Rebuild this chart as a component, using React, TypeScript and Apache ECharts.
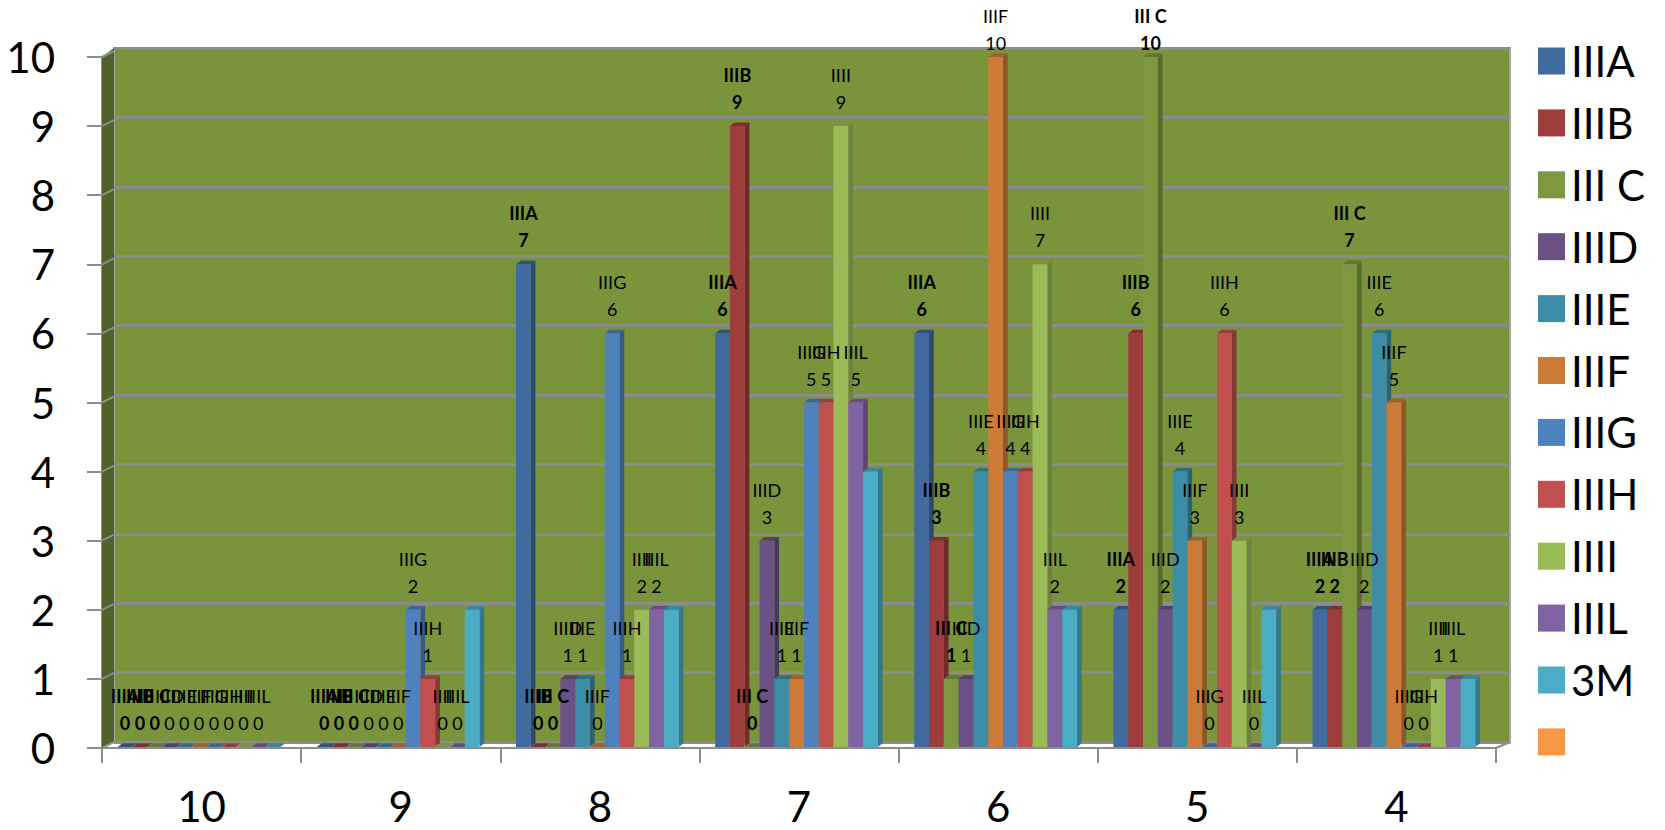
import React, { useEffect, useRef } from "react";
import * as echarts from "echarts";

const categories = ["10", "9", "8", "7", "6", "5", "4"];
const yTicks = [0, 1, 2, 3, 4, 5, 6, 7, 8, 9, 10];

const IIIA = [0, 0, 7, 6, 6, 2, 2];
const IIIB = [0, 0, 0, 9, 3, 6, 2];
const IIIC = [0, 0, 0, 0, 1, 10, 7];
const IIID = [0, 0, 1, 3, 1, 2, 2];
const IIIE = [0, 0, 1, 1, 4, 4, 6];
const IIIF = [0, 0, 0, 1, 10, 3, 5];
const IIIG = [0, 2, 6, 5, 4, 0, 0];
const IIIH = [0, 1, 1, 5, 4, 6, 0];
const IIII = [0, 0, 2, 9, 7, 3, 1];
const IIIL = [0, 0, 2, 5, 2, 0, 1];
const M3 = [0, 2, 2, 4, 2, 2, 1];

const seriesNames = ["IIIA", "IIIB", "III C", "IIID", "IIIE", "IIIF", "IIIG", "IIIH", "IIII", "IIIL", "3M"];
const seriesValues = [IIIA, IIIB, IIIC, IIID, IIIE, IIIF, IIIG, IIIH, IIII, IIIL, M3];
const seriesColors = ["#416a9e", "#9e3e3c", "#7e983f", "#6a5186", "#3c8da5", "#cc7b38", "#4f81bd", "#c0504d", "#9bbb59", "#8064a2", "#4bacc6"];
const boldNames = ["IIIA", "IIIB", "III C"];
const unlabelled = ["3M"];
const emptyLegendName = " ";
const emptyLegendColor = "#f79646";

const FONT = "Lato, 'Open Sans', sans-serif";
const GRAY = "#8c8c8c";

function darken(hex: string, k: number) {
  const n = parseInt(hex.slice(1), 16);
  const r = Math.round(((n >> 16) & 255) * k);
  const g = Math.round(((n >> 8) & 255) * k);
  const b = Math.round((n & 255) * k);
  return `rgb(${r},${g},${b})`;
}

export default function App() {
  const ref = useRef<HTMLDivElement>(null);
  useEffect(() => {
    const chart = echarts.init(ref.current!, undefined, { renderer: "svg" });

    const wallSeries: any = {
      type: "custom",
      name: "walls",
      xAxisIndex: 0,
      yAxisIndex: 0,
      silent: true,
      data: yTicks.map((v) => [0, v]),
      encode: { x: 0, y: 1 },
      renderItem: (_p: any, api: any) => {
        const v = api.value(1);
        const band = api.size([1, 0])[0];
        const [cx, y] = api.coord([0, v]);
        const x = cx - band / 2;
        const children: any[] = [];
        if (v === 0) {
          const top = api.coord([0, 10])[1];
          children.push({
            type: "polygon",
            z2: 0,
            shape: { points: [[x, y], [x + 12, y - 6], [x + 12, top - 9], [x, top]] },
            style: { fill: "#4f6228" },
          });
          const right = x + band * categories.length;
          children.push({
            type: "line",
            z2: 1,
            shape: { x1: right, y1: y, x2: right + 14, y2: y - 6 },
            style: { stroke: GRAY, lineWidth: 2 },
          });
        }
        children.push({
          type: "line",
          z2: 1,
          shape: { x1: x, y1: y, x2: x + 12, y2: y - 6 },
          style: { stroke: GRAY, lineWidth: 2 },
        });
        return { type: "group", children };
      },
    };

    const barSeries: any[] = seriesNames.map((name, idx) => {
      const color = seriesColors[idx];
      const side = darken(color, 0.7);
      const cap = darken(color, 0.78);
      return {
        type: "custom",
        name,
        xAxisIndex: 0,
        yAxisIndex: 0,
        itemStyle: { color },
        data: seriesValues[idx].map((v, i) => [i, v]),
        encode: { x: 0, y: 1 },
        renderItem: (_p: any, api: any) => {
          const cat = api.value(0);
          const v = api.value(1);
          const band = api.size([1, 0])[0];
          const w = band * 0.0743;
          const [cx, top] = api.coord([cat, v]);
          const base = api.coord([cat, 0])[1] - 1;
          const yTop = Math.min(top, base);
          const x = cx - 2.5 + (idx - 5.5) * w;
          const dx = 4.7;
          const dy = 3.7;
          const children: any[] = [
            {
              type: "polygon",
              z2: 10,
              shape: { points: [[x + w, yTop], [x + w + dx, yTop - dy], [x + w + dx, base - dy], [x + w, base]] },
              style: { fill: side },
            },
            {
              type: "polygon",
              z2: 10,
              shape: { points: [[x, yTop], [x + dx, yTop - dy], [x + w + dx, yTop - dy], [x + w, yTop]] },
              style: { fill: cap },
            },
            {
              type: "rect",
              z2: 10,
              shape: { x, y: yTop, width: w, height: base - yTop },
              style: { fill: color },
            },
          ];
          if (!unlabelled.includes(name)) {
            const valueCenter = Math.max(yTop - 24, 43);
            children.push({
              type: "text",
              z2: 100,
              x: x + w / 2,
              y: valueCenter + 13.5,
              style: {
                text: `${name}\n${v}`,
                align: "center",
                verticalAlign: "bottom",
                fontFamily: FONT,
                fontSize: 18,
                lineHeight: 27,
                fontWeight: boldNames.includes(name) ? "bold" : "normal",
                fill: "#000",
              },
            });
          }
          return { type: "group", children };
        },
      };
    });

    const emptySeries: any = {
      type: "custom",
      name: emptyLegendName,
      xAxisIndex: 0,
      yAxisIndex: 0,
      itemStyle: { color: emptyLegendColor },
      data: [],
      renderItem: () => null,
    };

    chart.setOption({
      animation: false,
      backgroundColor: "#fff",
      grid: [
        { left: 102, width: 1394, top: 57, height: 691, containLabel: false },
        {
          left: 114,
          width: 1396,
          top: 48,
          height: 694,
          show: true,
          backgroundColor: "#7a943c",
          borderColor: "#a6a6a6",
          borderWidth: 2,
        },
      ],
      xAxis: [
        {
          type: "category",
          gridIndex: 0,
          data: categories,
          axisLine: { show: true, lineStyle: { color: GRAY, width: 2 } },
          axisTick: { show: true, length: 15, lineStyle: { color: GRAY, width: 2 } },
          axisLabel: { fontFamily: FONT, fontSize: 42, color: "#000", margin: 37 },
          splitLine: { show: false },
        },
        { type: "value", gridIndex: 1, min: 0, max: 1, show: false, splitLine: { show: false } },
      ],
      yAxis: [
        {
          type: "value",
          gridIndex: 0,
          min: 0,
          max: 10,
          interval: 1,
          axisLine: { show: true, lineStyle: { color: GRAY, width: 2 } },
          axisTick: { show: true, length: 15, lineStyle: { color: GRAY, width: 2 } },
          axisLabel: { fontFamily: FONT, fontSize: 42, color: "#000", margin: 47 },
          splitLine: { show: false },
        },
        {
          type: "value",
          gridIndex: 1,
          min: 0,
          max: 10,
          interval: 1,
          axisLine: { show: false },
          axisTick: { show: false },
          axisLabel: { show: false },
          splitLine: { show: true, lineStyle: { color: GRAY, width: 3, type: "solid" } },
        },
      ],
      legend: {
        orient: "vertical",
        left: 1538,
        top: 40,
        padding: 0,
        itemWidth: 27,
        itemHeight: 27,
        itemGap: 19.9,
        icon: "rect",
        selectedMode: false,
        textStyle: { fontFamily: FONT, fontSize: 42, lineHeight: 27, color: "#000", padding: [0, 0, 0, 1] },
        data: [
          ...seriesNames.map((name, i) => ({ name, itemStyle: { color: seriesColors[i] } })),
          { name: emptyLegendName, itemStyle: { color: emptyLegendColor } },
        ],
      },
      series: [wallSeries, ...barSeries, emptySeries],
    });
    return () => chart.dispose();
  }, []);
  return <div ref={ref} style={{ position: "fixed", left: 0, top: 0, width: 1665, height: 830 }} />;
}
